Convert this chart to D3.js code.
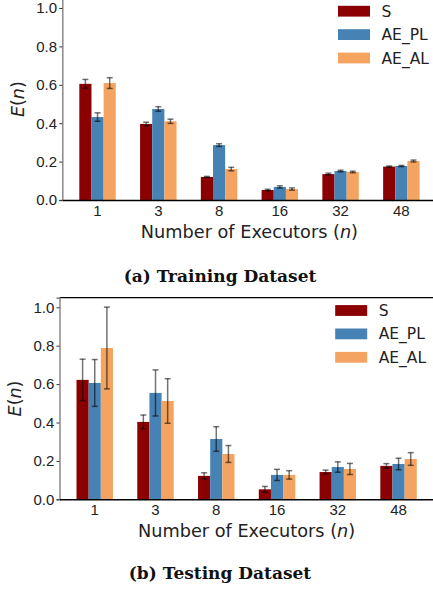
<!DOCTYPE html>
<html>
<head>
<meta charset="utf-8">
<script src="https://cdn.jsdelivr.net/npm/d3@7"></script>
<style>
  body { margin: 0; background: #fff; }
  svg { display: block; }
  .tick text { fill: #222; }
</style>
</head>
<body>
<div id="chart"></div>
<script>
// categories and series
const executors = ['1', '3', '8', '16', '32', '48'];
const seriesNames = ['S', 'AE_PL', 'AE_AL'];
const yTicks = [0, 0.2, 0.4, 0.6, 0.8, 1.0];

// (a) training dataset, mean and error per executor count
const trainS = [0.605, 0.396, 0.120, 0.052, 0.135, 0.174];
const trainSErr = [0.023, 0.009, 0.003, 0.004, 0.005, 0.003];
const trainPL = [0.432, 0.474, 0.286, 0.068, 0.151, 0.177];
const trainPLErr = [0.022, 0.012, 0.007, 0.006, 0.004, 0.003];
const trainAL = [0.609, 0.410, 0.161, 0.057, 0.146, 0.203];
const trainALErr = [0.028, 0.011, 0.009, 0.006, 0.004, 0.005];

// (b) testing dataset
const testS = [0.622, 0.403, 0.122, 0.052, 0.142, 0.174];
const testSErr = [0.108, 0.036, 0.016, 0.015, 0.010, 0.012];
const testPL = [0.606, 0.554, 0.314, 0.127, 0.168, 0.184];
const testPLErr = [0.122, 0.120, 0.064, 0.029, 0.027, 0.030];
const testAL = [0.788, 0.512, 0.236, 0.127, 0.158, 0.210];
const testALErr = [0.213, 0.116, 0.044, 0.022, 0.029, 0.033];

const colors = { S: '#8b0000', AE_PL: '#4682b4', AE_AL: '#f4a460' };

const W = 433;
const H = 589;

const svg = d3.select('#chart')
  .append('svg')
    .attr('width', W)
    .attr('height', H)
    .style('font-family', '"DejaVu Sans", sans-serif');

// builds rows of {group, series, value, err} for one panel
function makeRows (vals, errs) {
  const rows = [];
  executors.forEach((e, i) => {
    seriesNames.forEach((s, j) => {
      rows.push({ group: e, series: s, value: vals[j][i], err: errs[j][i] });
    });
  });
  return rows;
}

// draws one bar panel; left = x of left spine, y0 = pixel of zero line
function drawPanel (rows, left, y0, caption, captionY) {
  const plotW = 374.3;
  const pxPerUnit = 192;
  const g = svg.append('g');

  const x = d3.scaleBand()
    .domain(executors)
    .range([left, left + plotW])
    .paddingInner(0.4)
    .paddingOuter(0.28);
  const xs = d3.scaleBand()
    .domain(seriesNames)
    .range([0, x.bandwidth()]);
  const y = d3.scaleLinear()
    .domain([0, 1.05])
    .range([y0, y0 - 1.05 * pxPerUnit]);

  // bars
  g.selectAll('rect.bar')
    .data(rows)
    .join('rect')
      .attr('class', 'bar')
      .attr('x', d => x(d.group) + xs(d.series))
      .attr('y', d => y(d.value))
      .attr('width', xs.bandwidth())
      .attr('height', d => y(0) - y(d.value))
      .attr('fill', d => colors[d.series]);

  // error bars
  const eb = g.selectAll('g.err')
    .data(rows)
    .join('g')
      .attr('class', 'err')
      .attr('stroke', '#000')
      .attr('stroke-opacity', 0.55)
      .attr('stroke-width', 1.5);
  const cx = d => x(d.group) + xs(d.series) + xs.bandwidth() / 2;
  eb.append('line')
    .attr('x1', cx).attr('x2', cx)
    .attr('y1', d => y(d.value + d.err))
    .attr('y2', d => y(d.value - d.err));
  eb.append('line')
    .attr('x1', d => cx(d) - 3).attr('x2', d => cx(d) + 3)
    .attr('y1', d => y(d.value + d.err))
    .attr('y2', d => y(d.value + d.err));
  eb.append('line')
    .attr('x1', d => cx(d) - 3).attr('x2', d => cx(d) + 3)
    .attr('y1', d => y(d.value - d.err))
    .attr('y2', d => y(d.value - d.err));

  // top spine
  g.append('line')
    .attr('x1', left).attr('x2', left + plotW)
    .attr('y1', y(1.05)).attr('y2', y(1.05))
    .attr('stroke', '#000').attr('stroke-width', 1.2);

  // y axis
  const yAxis = g.append('g')
    .attr('transform', `translate(${left},0)`)
    .call(d3.axisLeft(y).tickValues(yTicks).tickFormat(d3.format('.1f')).tickSize(3).tickPadding(2.2));
  yAxis.select('.domain').attr('stroke', '#808080').attr('stroke-width', 1.4);
  yAxis.selectAll('.tick line').attr('stroke', '#333');
  yAxis.selectAll('.tick text').style('font-size', '15px');

  // x axis
  const xAxis = g.append('g')
    .attr('transform', `translate(0,${y0})`)
    .call(d3.axisBottom(x).tickSize(0).tickPadding(5));
  xAxis.select('.domain').attr('stroke', '#000').attr('stroke-width', 1.4);
  xAxis.selectAll('.tick text').style('font-size', '15px');

  // axis labels
  const xl = g.append('text')
    .attr('x', left + plotW / 2)
    .attr('y', y0 + 38)
    .attr('text-anchor', 'middle')
    .style('font-size', '17.7px')
    .attr('fill', '#222');
  xl.append('tspan').text('Number of Executors (');
  xl.append('tspan').style('font-style', 'italic').text('n');
  xl.append('tspan').text(')');

  const yl = g.append('text')
    .attr('transform', `translate(${left - 38.7},${y(0.525)}) rotate(-90)`)
    .attr('text-anchor', 'middle')
    .style('font-size', '17.5px')
    .attr('fill', '#222');
  yl.append('tspan').style('font-style', 'italic').text('E');
  yl.append('tspan').text('(');
  yl.append('tspan').style('font-style', 'italic').text('n');
  yl.append('tspan').text(')');

  // legend
  const top = y(1.05);
  const leg = g.selectAll('g.legend')
    .data(seriesNames)
    .join('g')
      .attr('class', 'legend')
      .attr('transform', (d, i) => `translate(${left + plotW - 98.6},${top + 12.8 + i * 23.4})`);
  leg.append('rect')
    .attr('x', 0).attr('y', -5.4)
    .attr('width', 32).attr('height', 10.8)
    .attr('fill', d => colors[d]);
  leg.append('text')
    .attr('x', 43.5)
    .attr('dy', '0.36em')
    .style('font-size', '15.5px')
    .attr('fill', '#222')
    .text(d => d);

  // caption
  svg.append('text')
    .attr('x', 220)
    .attr('y', captionY)
    .attr('text-anchor', 'middle')
    .style('font-family', '"DejaVu Serif", serif')
    .style('font-weight', 'bold')
    .style('font-size', '17px')
    .attr('fill', '#111')
    .text(caption);
}

drawPanel(makeRows([trainS, trainPL, trainAL], [trainSErr, trainPLErr, trainALErr]),
  62.3, 200, '(a) Training Dataset', 281.7);
drawPanel(makeRows([testS, testPL, testAL], [testSErr, testPLErr, testALErr]),
  59.5, 499.3, '(b) Testing Dataset', 579);
</script>
</body>
</html>
